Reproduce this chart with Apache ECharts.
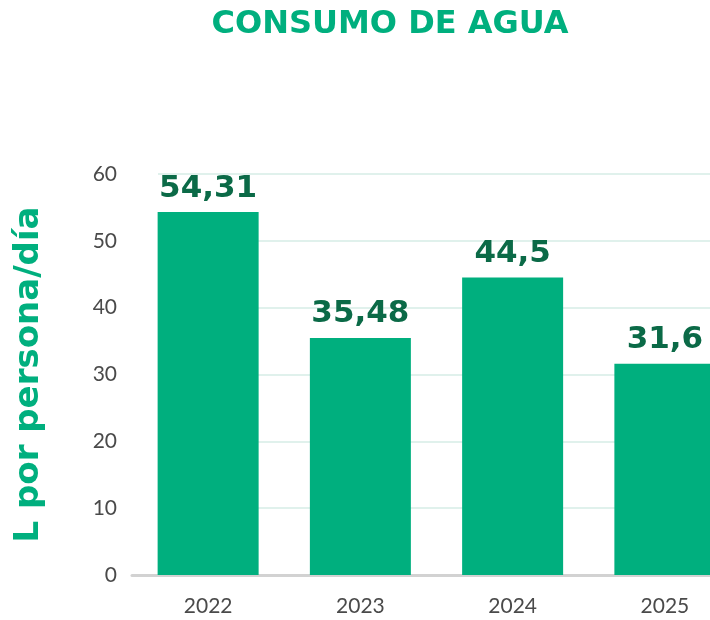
<!DOCTYPE html>
<html>
<head>
<meta charset="utf-8">
<script src="https://cdn.jsdelivr.net/npm/echarts@6/dist/echarts.min.js"></script>
<style>html,body{margin:0;padding:0;background:#fff}#c{width:710px;height:620px}</style>
</head>
<body>
<div id="c"></div>
<script>
var titleText = 'CONSUMO DE AGUA';
var yAxisName = 'L por persona/día';
var categories = ['2022', '2023', '2024', '2025'];
var values = [54.31, 35.48, 44.5, 31.6];
var yMin = 0, yMax = 60, yStep = 10;

var green = '#00AF7E';
var dark = '#0B6A47';

var chart = echarts.init(document.getElementById('c'), null, {renderer: 'canvas'});
chart.setOption({
  animation: false,
  title: {
    text: titleText,
    left: 385, top: 4, textAlign: 'center',
    textStyle: {fontFamily: 'DejaVu Sans', fontSize: 32, fontWeight: 900, color: green}
  },
  grid: [
    {left: 132, width: 609, top: 174, bottom: 45, containLabel: false, outerBoundsMode: 'none'},
    {left: 158, width: 583, top: 174, bottom: 45, containLabel: false, outerBoundsMode: 'none'}
  ],
  xAxis: [
    {
      type: 'category', gridIndex: 0, data: categories,
      axisLine: {show: true, lineStyle: {color: '#d2d2d2', width: 3}},
      axisTick: {show: false},
      axisLabel: {fontFamily: 'Lato', fontSize: 21, color: '#4a4a4a', margin: 21}
    },
    {
      type: 'category', gridIndex: 1, data: categories, show: false
    }
  ],
  yAxis: [
    {
      type: 'value', gridIndex: 0, min: yMin, max: yMax, interval: yStep,
      name: yAxisName, nameLocation: 'middle', nameRotate: 90, nameGap: 86,
      nameTextStyle: {fontFamily: 'DejaVu Sans', fontSize: 34, fontWeight: 'bold', color: green},
      axisLine: {show: false}, axisTick: {show: false},
      splitLine: {show: false},
      axisLabel: {fontFamily: 'Lato', fontSize: 21, color: '#4a4a4a', margin: 15}
    },
    {
      type: 'value', gridIndex: 1, min: yMin, max: yMax, interval: yStep,
      axisLine: {show: false}, axisTick: {show: false}, axisLabel: {show: false},
      splitLine: {show: true, lineStyle: {color: '#d6ede6', width: 1.5}}
    }
  ],
  series: [{
    type: 'bar', xAxisIndex: 0, yAxisIndex: 0, data: values,
    barWidth: 101, z: 3,
    itemStyle: {color: green},
    label: {
      show: true, position: 'top', distance: 8,
      fontFamily: 'DejaVu Sans', fontSize: 31, fontWeight: 900, color: dark,
      formatter: function (p) { return String(p.value).replace('.', ','); }
    }
  }]
});
</script>
</body>
</html>
